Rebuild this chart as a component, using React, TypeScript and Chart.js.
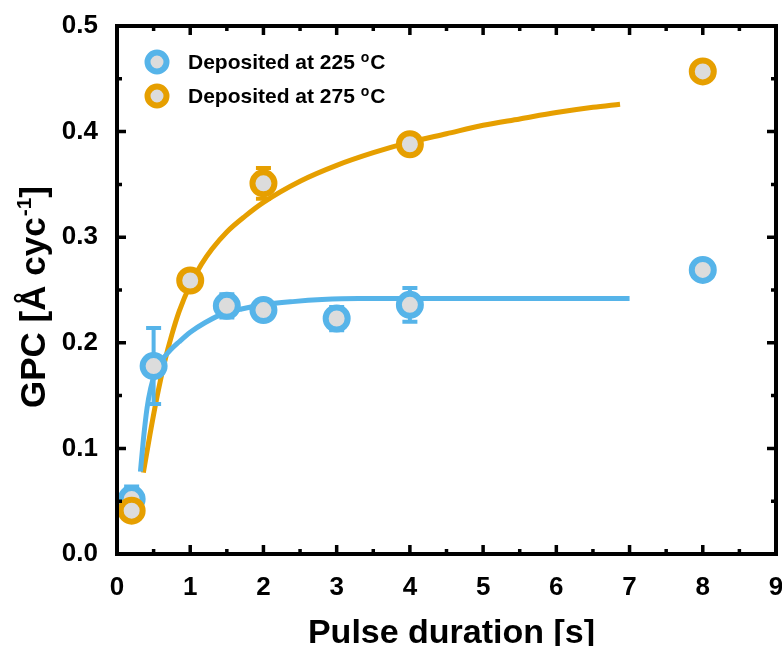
import React, { useEffect, useRef } from 'react';
import { Chart, registerables } from 'chart.js';

Chart.register(...registerables);

// ---- data ----
const xTickValues = [0, 1, 2, 3, 4, 5, 6, 7, 8, 9];
const xTickLabels = ['0', '1', '2', '3', '4', '5', '6', '7', '8', '9'];
const yTickValues = [0, 0.1, 0.2, 0.3, 0.4, 0.5];
const yTickLabels = ['0.0', '0.1', '0.2', '0.3', '0.4', '0.5'];

const seriesNames = ['Deposited at 225 ', 'Deposited at 275 '];
const seriesUnit = ['o', 'C'];

const blueX = [0.2, 0.5, 1.5, 2, 3, 4, 8];
const blueY = [0.052, 0.178, 0.235, 0.231, 0.223, 0.236, 0.269];
const blueErr = [0.012, 0.036, 0.011, 0, 0.011, 0.016, 0];

const orangeX = [0.2, 1, 2, 4, 8];
const orangeY = [0.041, 0.259, 0.351, 0.388, 0.457];
const orangeErr = [0, 0, 0.0145, 0, 0];

const blueFitX = [0.32, 0.36, 0.41, 0.46, 0.52, 0.6, 0.7, 0.85, 1.0, 1.2, 1.4, 1.7, 2.0, 2.4, 2.8, 3.3, 4, 5, 6, 7];
const blueFitY = [0.078, 0.108, 0.138, 0.157, 0.171, 0.182, 0.191, 0.201, 0.21, 0.219, 0.226, 0.232, 0.236, 0.239, 0.241, 0.242, 0.242, 0.242, 0.242, 0.242];

const orangeFitX = [0.36, 0.45, 0.55, 0.65, 0.75, 0.85, 1.0, 1.15, 1.3, 1.5, 1.75, 2.0, 2.5, 3.0, 3.5, 4.0, 4.5, 5.0, 5.5, 6.0, 6.5, 6.87];
const orangeFitY = [0.077, 0.113, 0.15, 0.182, 0.208, 0.23, 0.255, 0.274, 0.289, 0.305, 0.32, 0.333, 0.353, 0.368, 0.38, 0.39, 0.398, 0.406, 0.412, 0.418, 0.423, 0.426];

// ---- style ----
const BLUE = '#56B4E9';
const ORANGE = '#E69F00';
const FILL = '#DCDCDC';
const FONT = '"Liberation Sans", Arial, Helvetica, sans-serif';

const toPts = (xs: number[], ys: number[]) => xs.map((x, i) => ({ x, y: ys[i] }));

const errorBarPlugin = {
  id: 'errorBars',
  beforeDatasetDraw(chart: any, args: any) {
    const ds = chart.data.datasets[args.index];
    const errs: number[] | undefined = ds.errorBars;
    if (!errs) return;
    const { ctx, scales } = chart;
    const xs = scales.x;
    const ys = scales.y;
    ctx.save();
    ctx.strokeStyle = ds.borderColor;
    ctx.lineWidth = 4;
    ds.data.forEach((p: any, i: number) => {
      const e = errs[i];
      if (!e) return;
      const px = xs.getPixelForValue(p.x);
      const t = ys.getPixelForValue(p.y + e);
      const b = ys.getPixelForValue(p.y - e);
      ctx.beginPath();
      ctx.moveTo(px, t);
      ctx.lineTo(px, b);
      ctx.moveTo(px - 7.5, t);
      ctx.lineTo(px + 7.5, t);
      ctx.moveTo(px - 7.5, b);
      ctx.lineTo(px + 7.5, b);
      ctx.stroke();
    });
    ctx.restore();
  },
};

const framePlugin = {
  id: 'frame',
  afterDraw(chart: any) {
    const { ctx, chartArea: a, scales } = chart;
    const xs = scales.x;
    const ys = scales.y;
    ctx.save();
    ctx.strokeStyle = '#000';
    ctx.lineCap = 'butt';
    ctx.lineWidth = 3.5;
    const major = 9;
    const minor = 5;
    for (let i = 0; i < xTickValues.length; i++) {
      const v = xTickValues[i];
      const p = xs.getPixelForValue(v);
      ctx.beginPath();
      ctx.moveTo(p, a.bottom);
      ctx.lineTo(p, a.bottom - major);
      ctx.moveTo(p, a.top);
      ctx.lineTo(p, a.top + major);
      ctx.stroke();
      if (i < xTickValues.length - 1) {
        const m = xs.getPixelForValue((v + xTickValues[i + 1]) / 2);
        ctx.beginPath();
        ctx.moveTo(m, a.bottom);
        ctx.lineTo(m, a.bottom - minor);
        ctx.moveTo(m, a.top);
        ctx.lineTo(m, a.top + minor);
        ctx.stroke();
      }
    }
    for (let i = 0; i < yTickValues.length; i++) {
      const v = yTickValues[i];
      const p = ys.getPixelForValue(v);
      ctx.beginPath();
      ctx.moveTo(a.left, p);
      ctx.lineTo(a.left + major, p);
      ctx.moveTo(a.right, p);
      ctx.lineTo(a.right - major, p);
      ctx.stroke();
      if (i < yTickValues.length - 1) {
        const m = ys.getPixelForValue((v + yTickValues[i + 1]) / 2);
        ctx.beginPath();
        ctx.moveTo(a.left, m);
        ctx.lineTo(a.left + minor, m);
        ctx.moveTo(a.right, m);
        ctx.lineTo(a.right - minor, m);
        ctx.stroke();
      }
    }
    ctx.lineWidth = 4;
    ctx.lineJoin = 'miter';
    ctx.strokeRect(a.left, a.top, a.right - a.left, a.bottom - a.top);
    ctx.restore();
  },
};

const textPlugin = {
  id: 'texts',
  afterDraw(chart: any) {
    const { ctx, chartArea: a } = chart;
    ctx.save();
    ctx.fillStyle = '#000';
    // x title
    ctx.font = `bold 34px ${FONT}`;
    ctx.textAlign = 'center';
    ctx.textBaseline = 'alphabetic';
    ctx.fillText('Pulse duration [s]', (a.left + a.right) / 2 + 5, 643);

    // y title with superscript
    const main1 = 'GPC [Å cyc';
    const sup = '-1';
    const main2 = ']';
    ctx.font = `bold 35px ${FONT}`;
    const w1 = ctx.measureText(main1).width;
    const w3 = ctx.measureText(main2).width;
    ctx.font = `bold 21px ${FONT}`;
    const w2 = ctx.measureText(sup).width;
    const total = w1 + w2 + w3 + 1;
    ctx.translate(45, 297);
    ctx.rotate(-Math.PI / 2);
    ctx.textAlign = 'left';
    let x0 = -total / 2;
    ctx.font = `bold 35px ${FONT}`;
    ctx.fillText(main1, x0, 0);
    x0 += w1 + 1;
    ctx.font = `bold 21px ${FONT}`;
    ctx.fillText(sup, x0, -14);
    x0 += w2;
    ctx.font = `bold 35px ${FONT}`;
    ctx.fillText(main2, x0, 0);
    ctx.restore();

    // legend
    ctx.save();
    const colors = [BLUE, ORANGE];
    const rows = [62, 96];
    rows.forEach((cy, i) => {
      ctx.beginPath();
      ctx.arc(157, cy, 9.5, 0, Math.PI * 2);
      ctx.fillStyle = FILL;
      ctx.fill();
      ctx.lineWidth = 6;
      ctx.strokeStyle = colors[i];
      ctx.stroke();
      ctx.fillStyle = '#000';
      ctx.textAlign = 'left';
      ctx.textBaseline = 'alphabetic';
      ctx.font = `bold 21px ${FONT}`;
      const base = cy + 7;
      let tx = 188;
      ctx.fillText(seriesNames[i], tx, base);
      tx += ctx.measureText(seriesNames[i]).width;
      ctx.font = `bold 14px ${FONT}`;
      ctx.fillText(seriesUnit[0], tx, base - 7);
      tx += ctx.measureText(seriesUnit[0]).width + 1;
      ctx.font = `bold 21px ${FONT}`;
      ctx.fillText(seriesUnit[1], tx, base);
    });
    ctx.restore();
  },
};

export default function App() {
  const ref = useRef<HTMLCanvasElement | null>(null);

  useEffect(() => {
    document.body.style.margin = '0';
    if (!ref.current) return;
    const markerBase = {
      type: 'scatter' as const,
      showLine: false,
      pointRadius: 11,
      pointHoverRadius: 11,
      pointBorderWidth: 6,
      pointBackgroundColor: FILL,
      backgroundColor: FILL,
    };
    const chart = new Chart(ref.current, {
      type: 'scatter',
      data: {
        datasets: [
          {
            ...markerBase,
            label: seriesNames[1],
            data: toPts(orangeX, orangeY),
            borderColor: ORANGE,
            pointBorderColor: ORANGE,
            errorBars: orangeErr,
            order: 1,
          } as any,
          {
            ...markerBase,
            label: seriesNames[0],
            data: toPts(blueX, blueY),
            borderColor: BLUE,
            pointBorderColor: BLUE,
            errorBars: blueErr,
            order: 2,
          } as any,
          {
            type: 'line',
            label: 'fit 225',
            data: toPts(blueFitX, blueFitY),
            borderColor: BLUE,
            borderWidth: 5,
            pointRadius: 0,
            fill: false,
            cubicInterpolationMode: 'monotone',
            order: 3,
          } as any,
          {
            type: 'line',
            label: 'fit 275',
            data: toPts(orangeFitX, orangeFitY),
            borderColor: ORANGE,
            borderWidth: 5,
            pointRadius: 0,
            fill: false,
            cubicInterpolationMode: 'monotone',
            order: 4,
          } as any,
        ],
      },
      options: {
        animation: false,
        responsive: false,
        devicePixelRatio: 1,
        layout: { autoPadding: false, padding: { top: 26, right: 6, left: 0, bottom: 0 } },
        plugins: {
          legend: { display: false },
          tooltip: { enabled: false },
        },
        scales: {
          x: {
            type: 'linear',
            min: 0,
            max: 9,
            grid: { display: false },
            border: { display: false },
            afterBuildTicks: (s: any) => {
              s.ticks = xTickValues.map((v) => ({ value: v }));
            },
            afterFit: (s: any) => {
              s.height = 92;
              s.paddingLeft = 0;
              s.paddingRight = 0;
            },
            ticks: {
              padding: 10,
              color: '#000',
              maxRotation: 0,
              font: { family: FONT, weight: 'bold', size: 26 },
              callback: (_v: any, i: number) => xTickLabels[i],
            },
          },
          y: {
            type: 'linear',
            min: 0,
            max: 0.5,
            grid: { display: false },
            border: { display: false },
            afterBuildTicks: (s: any) => {
              s.ticks = yTickValues.map((v) => ({ value: v }));
            },
            afterFit: (s: any) => {
              s.width = 117;
              s.paddingTop = 0;
              s.paddingBottom = 0;
            },
            ticks: {
              padding: 11,
              color: '#000',
              font: { family: FONT, weight: 'bold', size: 26 },
              callback: (_v: any, i: number) => yTickLabels[i],
            },
          },
        },
      } as any,
      plugins: [errorBarPlugin, framePlugin, textPlugin],
    });
    return () => chart.destroy();
  }, []);

  return (
    <canvas
      ref={ref}
      width={782}
      height={646}
      style={{ display: 'block', width: 782, height: 646 }}
    />
  );
}
